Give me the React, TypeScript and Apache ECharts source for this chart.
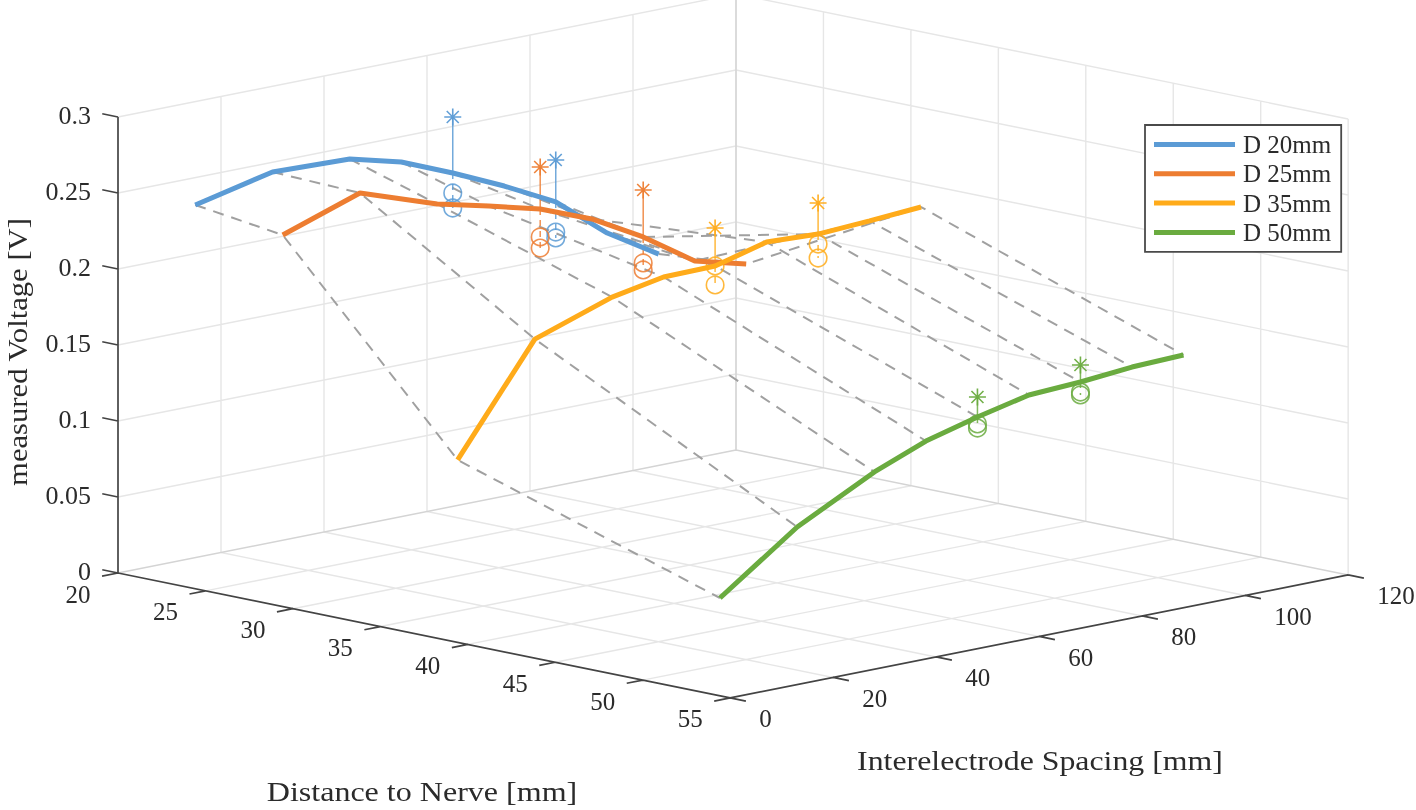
import React, { useEffect, useRef } from "react";
import * as echarts from "echarts";

// ---- data ----
const distances = [20, 25, 35, 50];
const spacings = [15, 30, 45, 55, 65, 75, 85, 95, 105];
const seriesNames = ["D 20mm", "D 25mm", "D 35mm", "D 50mm"];
const colors = ["#5B9BD5", "#ED7D31", "#FFAB1A", "#6AAB3F"];

const simulatedD20 = [0.232, 0.2436, 0.242, 0.2333, 0.2193, 0.204, 0.1868, 0.1596, 0.139];
const simulatedD25 = [0.224, 0.2415, 0.2242, 0.2161, 0.2074, 0.1941, 0.1755, 0.153, 0.1442];
const simulatedD35 = [0.0995, 0.1689, 0.1864, 0.1929, 0.1934, 0.2024, 0.2009, 0.2028, 0.2052];
const simulatedD50 = [0.0439, 0.0805, 0.1066, 0.1202, 0.1293, 0.137, 0.1388, 0.1419, 0.1431];
const simulated = [simulatedD20, simulatedD25, simulatedD35, simulatedD50];

const measuredSpacings = [65, 85];
const starValues = [[0.2562, 0.2144], [0.235, 0.2064], [0.2184, 0.2213], [0.1424, 0.15]];
const circleUpper = [[0.2062, 0.167], [0.189, 0.1584], [0.1934, 0.1943], [0.1247, 0.1322]];
const circleLower = [[0.1963, 0.1631], [0.1817, 0.1538], [0.1809, 0.1851], [0.122, 0.1303]];

const distanceTicks = [20, 25, 30, 35, 40, 45, 50, 55];
const spacingTicks = [0, 20, 40, 60, 80, 100, 120];
const voltageTicks = [0, 0.05, 0.1, 0.15, 0.2, 0.25, 0.3];

const xTitle = "Distance to Nerve [mm]";
const yTitle = "Interelectrode Spacing [mm]";
const zTitle = "measured Voltage [V]";

// ---- orthographic view of the 3-D box, fitted to the reference ----
const project = (d: number, s: number, v: number): [number, number] => [
  118 + (d - 20) * 17.49 + s * 5.15,
  573 + (d - 20) * 3.57 - s * 1.025 - v * 1520,
];

const FONT = '"Liberation Serif", serif';
const INK = "#2b2b2b";
const STAR =
  "path://M10 0V20M0 10H20M2.93 2.93L17.07 17.07M2.93 17.07L17.07 2.93";

const BREAK = ["-", "-"];
const segments = (list: [number, number, number][][]) => {
  const out: any[] = [];
  list.forEach((seg) => {
    seg.forEach((p) => out.push(project(p[0], p[1], p[2])));
    out.push(BREAK);
  });
  return out;
};

const DMIN = distanceTicks[0];
const DMAX = distanceTicks[distanceTicks.length - 1];
const SMIN = spacingTicks[0];
const SMAX = spacingTicks[spacingTicks.length - 1];
const VMIN = voltageTicks[0];
const VMAX = voltageTicks[voltageTicks.length - 1];

function buildOption() {
  const gridSegs: [number, number, number][][] = [];
  // floor
  distanceTicks.slice(1, -1).forEach((d) => gridSegs.push([[d, SMIN, 0], [d, SMAX, 0]]));
  spacingTicks.slice(1, -1).forEach((s) => gridSegs.push([[DMIN, s, 0], [DMAX, s, 0]]));
  // left wall (D = 20)
  spacingTicks.slice(1).forEach((s) => gridSegs.push([[DMIN, s, VMIN], [DMIN, s, VMAX]]));
  voltageTicks.slice(1).forEach((v) => gridSegs.push([[DMIN, SMIN, v], [DMIN, SMAX, v]]));
  // right wall (S = 120)
  distanceTicks.slice(1).forEach((d) => gridSegs.push([[d, SMAX, VMIN], [d, SMAX, VMAX]]));
  voltageTicks.slice(1).forEach((v) => gridSegs.push([[DMIN, SMAX, v], [DMAX, SMAX, v]]));

  const edgeSegs: [number, number, number][][] = [
    [[DMIN, SMIN, 0], [DMIN, SMAX, 0], [DMAX, SMAX, 0]],
    [[DMIN, SMAX, VMIN], [DMIN, SMAX, VMAX]],
  ];

  const axisSegs: [number, number, number][][] = [
    [[DMIN, SMIN, VMAX], [DMIN, SMIN, VMIN], [DMAX, SMIN, VMIN], [DMAX, SMAX, VMIN]],
  ];

  const tickDx = 0.9; // tick length, in mm of D
  const tickDs = 3.1; // tick length, in mm of S
  voltageTicks.forEach((v) => axisSegs.push([[DMIN, SMIN, v], [DMIN - tickDx, SMIN, v]]));
  distanceTicks.forEach((d) => axisSegs.push([[d, SMIN, 0], [d, SMIN - tickDs, 0]]));
  spacingTicks.forEach((s) => axisSegs.push([[DMAX, s, 0], [DMAX + tickDx, s, 0]]));

  const plain = (name: string, data: any[], color: string, width: number, z: number, extra: any = {}) => ({
    type: "line",
    name,
    data,
    showSymbol: false,
    symbol: "none",
    silent: true,
    z,
    connectNulls: false,
    lineStyle: { color, width, ...extra },
    itemStyle: { color },
    emphasis: { disabled: true },
  });

  const series: any[] = [];
  series.push(plain("grid", segments(gridSegs), "#e6e6e6", 1.4, 1));
  series.push(plain("edges", segments(edgeSegs), "#d4d4d4", 1.5, 1));
  series.push(plain("axes", segments(axisSegs), "#444444", 1.7, 2));

  // dashed links between distances at one spacing
  spacings.forEach((s, i) => {
    series.push(
      plain(
        `link ${s}`,
        distances.map((d, k) => project(d, s, simulated[k][i])),
        "#a0a0a0",
        2,
        3,
        { type: [11, 8] }
      )
    );
  });

  distances.forEach((d, k) => {
    const color = colors[k];
    measuredSpacings.forEach((s, m) => {
      const onCurve = simulated[k][spacings.indexOf(s)];
      series.push(
        plain(`stem ${d} ${s}`, [project(d, s, starValues[k][m]), project(d, s, onCurve)], color, 1.5, 4, { opacity: 0.85 })
      );
      series.push(
        plain(`drop ${d} ${s}`, [project(d, s, onCurve), project(d, s, circleLower[k][m])], color, 1.5, 4, {
          opacity: 0.85,
          type: [6, 5],
        })
      );
    });
    series.push({
      type: "scatter",
      name: `measured a ${d}`,
      silent: true,
      z: 4,
      symbol: "circle",
      symbolSize: 17.5,
      itemStyle: { color: "transparent", borderColor: color, borderWidth: 1.6, opacity: 0.85 },
      data: measuredSpacings.flatMap((s, m) => [
        project(d, s, circleUpper[k][m]),
        project(d, s, circleLower[k][m]),
      ]),
    });
    series.push({
      type: "scatter",
      name: `measured b ${d}`,
      silent: true,
      z: 4,
      symbol: STAR,
      symbolSize: 17,
      itemStyle: { color: "transparent", borderColor: color, borderWidth: 1.6, opacity: 0.95 },
      data: measuredSpacings.map((s, m) => project(d, s, starValues[k][m])),
    });
  });

  distances.forEach((d, k) => {
    series.push(
      plain(seriesNames[k], spacings.map((s, i) => project(d, s, simulated[k][i])), colors[k], 5, 5)
    );
  });

  const text = (t: string, x: number, y: number, align: string, size = 25, rotation = 0, scaleX = 1) => ({
    type: "text",
    x,
    y,
    rotation,
    scaleX,
    silent: true,
    style: { text: t, font: `${size}px ${FONT}`, fill: INK, align, verticalAlign: "middle" },
  });

  const labels: any[] = [];
  voltageTicks.forEach((v) => {
    const [x, y] = project(DMIN, SMIN, v);
    labels.push(text(String(v), x - 27, y - 1.5, "right", 25, 0, 1.04));
  });
  distanceTicks.forEach((d) => {
    const [x, y] = project(d, SMIN, 0);
    labels.push(text(String(d), x - 40, y + 21, "center"));
  });
  spacingTicks.forEach((s) => {
    const [x, y] = project(DMAX, s, 0);
    labels.push(text(String(s), x + 29, y + 21, "left"));
  });
  labels.push(text(xTitle, 422, 792, "center", 28, 0, 1.145));
  labels.push(text(yTitle, 1040, 760, "center", 28, 0, 1.137));
  labels.push(text(zTitle, 17, 352, "center", 28, Math.PI / 2, 1.095));

  return {
    animation: false,
    backgroundColor: "#ffffff",
    grid: { left: 0, right: 0, top: 0, bottom: 0 },
    xAxis: { type: "value", min: 0, max: 1416, show: false },
    yAxis: { type: "value", min: 0, max: 810, inverse: true, show: false },
    legend: {
      show: true,
      data: seriesNames,
      orient: "vertical",
      left: 1145,
      top: 125,
      icon: "rect",
      itemWidth: 81,
      itemHeight: 5,
      itemGap: 4.3,
      padding: [7, 10, 7, 9],
      selectedMode: false,
      backgroundColor: "#ffffff",
      borderColor: "#4a4a4a",
      borderWidth: 1.8,
      textStyle: { fontFamily: FONT, fontSize: 25, color: INK, padding: [0, 0, 0, 3] },
    },
    graphic: { elements: labels },
    series,
  };
}

export default function App() {
  const ref = useRef<HTMLDivElement>(null);
  useEffect(() => {
    const chart = echarts.init(ref.current!, undefined, { renderer: "svg" });
    chart.setOption(buildOption() as any);
    return () => chart.dispose();
  }, []);
  return (
    <div
      ref={ref}
      style={{ position: "fixed", left: 0, top: 0, width: 1416, height: 810, filter: "blur(0.5px)" }}
    />
  );
}
